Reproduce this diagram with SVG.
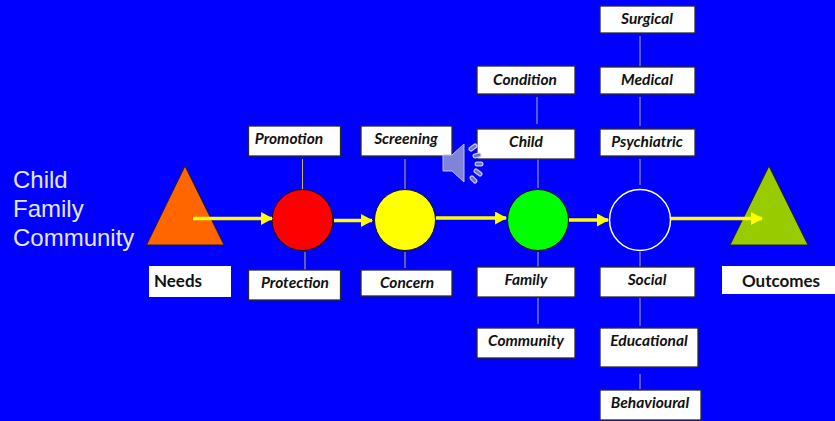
<svg xmlns="http://www.w3.org/2000/svg" width="835" height="421" viewBox="0 0 835 421">
<style>
.box{fill:#fff;stroke:#2a2a2a;stroke-width:1.300}
.lbl{font-family:"Lato","Liberation Sans",sans-serif;font-size:15.500px;font-weight:bold;font-style:italic;fill:#111;text-anchor:middle}
.bold{font-family:"Lato","Liberation Sans",sans-serif;font-size:17px;font-weight:bold;fill:#111;text-anchor:middle}
.side{font-family:"Liberation Sans",sans-serif;font-size:24px;fill:#e6e6ff}
.st{stroke:#c8b84a;stroke-width:1;fill:none}
.st2{stroke:#b0b0a8;stroke-width:1;fill:none}
.ar{stroke:#ffff00;stroke-width:3.500;fill:none;marker-end:url(#h)}
.tri{stroke:#222;stroke-width:1}
.c{stroke:#111;stroke-width:1}
</style>
<defs><marker id="h" markerUnits="userSpaceOnUse" markerWidth="12" markerHeight="13" refX="11" refY="6.500" orient="auto"><path d="M0 0L12 6.500L0 13Z" fill="#ffff00"/></marker></defs>
<rect width="835" height="421" fill="#0000ff"/>
<g id="side-text" class="side"><text x="13" y="188">Child</text><text x="13" y="217">Family</text><text x="13" y="246">Community</text></g>
<g id="stems">
<path class="st" d="M302.500 159V190M305 252V270M405 159V190M405 252V268"/>
<path class="st2" d="M537 97V124M538 159V188M538 252V268M538 298V324M640 36V66M640 97V126M640 159V185M640 252V268M640 298V326M640 374V389"/>
</g>
<g id="needs-tri"><path class="tri" d="M185 166L224 245H146.500Z" fill="#ff6600"/></g>
<g id="outcomes-tri"><path class="tri" d="M769 166L808 245H730Z" fill="#99cc00"/></g>
<g id="c1"><circle class="c" cx="302.500" cy="220" r="30.500" fill="#ff0000"/></g>
<g id="c2"><circle class="c" cx="405" cy="220" r="30.500" fill="#ffff00"/></g>
<g id="c3"><circle class="c" cx="538" cy="220" r="30.500" fill="#00ff00"/></g>
<g id="c4"><circle cx="640" cy="220" r="30.500" fill="#0000ff" stroke="#fff" stroke-width="1.500"/></g>
<g id="connectors">
<path class="ar" d="M193 218.500H272"/>
<path class="ar" d="M334 220.500H372"/>
<path class="ar" d="M436 218H506"/>
<path class="ar" d="M569 220H608"/>
<path class="ar" d="M671 218.500H762"/>
</g>
<g id="n-needs"><rect x="149" y="266" width="82" height="31" fill="#fff"/><text class="bold" x="178" y="287">Needs</text></g>
<g id="n-outcomes"><rect x="722" y="266" width="113" height="28" fill="#fff"/><text class="bold" x="781" y="287">Outcomes</text></g>
<g id="n-promotion"><rect class="box" x="248.500" y="126" width="92" height="30"/><text class="lbl" x="289" y="144">Promotion</text></g>
<g id="n-protection"><rect class="box" x="248.500" y="270" width="92" height="30"/><text class="lbl" x="295" y="288">Protection</text></g>
<g id="n-screening"><rect class="box" x="361" y="126" width="91" height="30"/><text class="lbl" x="406" y="144">Screening</text></g>
<g id="n-concern"><rect class="box" x="361" y="270" width="91" height="26"/><text class="lbl" x="407" y="288">Concern</text></g>
<g id="n-condition"><rect class="box" x="477" y="66" width="98" height="28"/><text class="lbl" x="525" y="85">Condition</text></g>
<g id="n-child"><rect class="box" x="477" y="129" width="98" height="30"/><text class="lbl" x="526" y="147">Child</text></g>
<g id="n-family"><rect class="box" x="477" y="267" width="98" height="30"/><text class="lbl" x="526" y="285">Family</text></g>
<g id="n-community"><rect class="box" x="477" y="328" width="98" height="30"/><text class="lbl" x="526" y="346">Community</text></g>
<g id="n-surgical"><rect class="box" x="600" y="6" width="95" height="27"/><text class="lbl" x="647" y="24">Surgical</text></g>
<g id="n-medical"><rect class="box" x="600" y="67" width="95" height="27"/><text class="lbl" x="647" y="85">Medical</text></g>
<g id="n-psychiatric"><rect class="box" x="600" y="129" width="95" height="27"/><text class="lbl" x="647" y="147">Psychiatric</text></g>
<g id="n-social"><rect class="box" x="600" y="267" width="95" height="30"/><text class="lbl" x="647" y="285">Social</text></g>
<g id="n-educational"><rect class="box" x="600" y="328" width="98" height="39"/><text class="lbl" x="649" y="346">Educational</text></g>
<g id="n-behavioural"><rect class="box" x="600" y="390" width="101" height="30"/><text class="lbl" x="650" y="408">Behavioural</text></g>
<g id="speaker">
<path d="M443 155H452L464 144V182L452 171H443Z" fill="#7f84d8" stroke="#c0c0e8" stroke-width="1"/>
<g stroke="#c8c8ee" stroke-width="5" stroke-linecap="round" fill="none"><path d="M471 149L475 146"/><path d="M475 156L479 155"/><path d="M477 164H481"/><path d="M476 171L480 174"/><path d="M472 178L475 181"/></g>
<g stroke="#6a70d8" stroke-width="2.500" stroke-linecap="round" fill="none"><path d="M471 149L475 146"/><path d="M475 156L479 155"/><path d="M477 164H481"/><path d="M476 171L480 174"/><path d="M472 178L475 181"/></g>
</g>
</svg>
